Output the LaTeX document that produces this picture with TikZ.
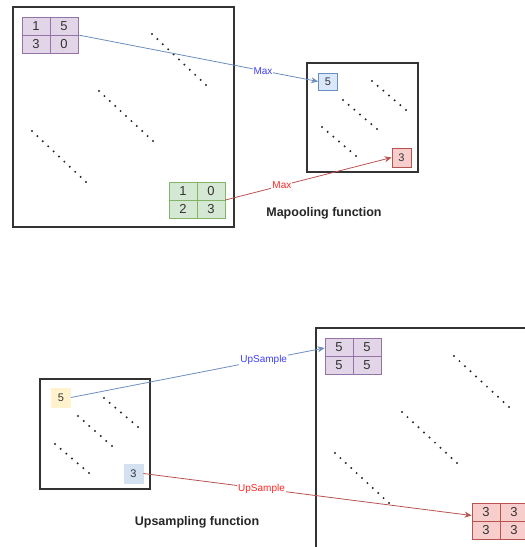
\documentclass[tikz,border=0pt]{standalone}
\usepackage{fontspec}
\setmainfont{Liberation Sans}
\usetikzlibrary{calc, arrows.meta}

\definecolor{purpfill}{HTML}{E1D5E7}
\definecolor{purpline}{HTML}{9673A6}
\definecolor{grnfill}{HTML}{D5E8D4}
\definecolor{grnline}{HTML}{82B366}
\definecolor{blufill}{HTML}{DAE8FC}
\definecolor{bluline}{HTML}{6C8EBF}
\definecolor{redfill}{HTML}{F8CECC}
\definecolor{redline}{HTML}{B85450}
\definecolor{yelfill}{HTML}{FFF2CC}
\definecolor{yelline}{HTML}{D6B656}
\definecolor{grayfill}{HTML}{D4E1F0}
\definecolor{frameline}{HTML}{333333}

\tikzset{
    frame/.style={draw=frameline, line width=1.1pt},
    num/.style={font=\fontsize{13}{15}\selectfont, text=black!80, inner sep=0pt},
    purpcell/.style={draw=purpline, fill=purpfill, line width=0.8pt},
    grncell/.style={draw=grnline, fill=grnfill, line width=0.8pt},
    redcell/.style={draw=redline, fill=redfill, line width=0.8pt},
    onebox/.style={minimum size=19pt, inner sep=0pt, line width=0.8pt, font=\fontsize{11}{13}\selectfont, text=black!80},
    bluarrow/.style={draw=bluline, line width=0.8pt, -{Stealth[length=7pt, width=6pt]}},
    redarrow/.style={draw=redline, line width=0.8pt, -{Stealth[length=7pt, width=6pt]}},
    bluetag/.style={fill=white, inner sep=1pt, text=blue!75, font=\fontsize{10}{12}\selectfont},
    redtag/.style={fill=white, inner sep=1pt, text=red!85, font=\fontsize{10}{12}\selectfont},
    caption/.style={font=\bfseries\fontsize{12.5}{15}\selectfont, text=black!85}
}

\newcommand{\fourcell}[7]{%
    \node[#2, minimum width=56pt, minimum height=36pt, inner sep=0pt] (#1) at #3 {};
    \draw[#2] (#1.north) -- (#1.south) (#1.west) -- (#1.east);
    \node[num] at ($(#1.center)+(-14,-9)$) {#4};
    \node[num] at ($(#1.center)+(14,-9)$) {#5};
    \node[num] at ($(#1.center)+(-14,9)$) {#6};
    \node[num] at ($(#1.center)+(14,9)$) {#7};
}

\newcommand{\dotrow}[3]{%
    \foreach \i in {0,...,#3}
        \fill[black!85] ($#1!\i/#3!#2$) circle (1.1);
}

\begin{document}
\begin{tikzpicture}[x=1pt, y=-1pt]
    \useasboundingbox (0,0) rectangle (525,547);
    \clip (0,0) rectangle (525,547);

    \draw[frame] (13,7) rectangle (234,227);
    \fourcell{pin}{purpcell}{(50,35)}{1}{5}{3}{0}
    \fourcell{gin}{grncell}{(197,200)}{1}{0}{2}{3}
    \dotrow{(152,34)}{(206,85)}{10}
    \dotrow{(99,91)}{(153,141)}{10}
    \dotrow{(32,131)}{(86,182)}{10}

    \draw[frame] (307,63) rectangle (418,172);
    \node[onebox, draw=bluline, fill=blufill, minimum height=17pt] (maxfive) at (328,81.5) {5};
    \node[onebox, draw=redline, fill=redfill] (maxthree) at (401.5,157.5) {3};
    \dotrow{(372,81)}{(406,110)}{6}
    \dotrow{(343,100)}{(377,129)}{6}
    \dotrow{(322,127)}{(356,156)}{6}
    \node[caption] (mpcap) at (324,213) {Mapooling function};

    \draw[bluarrow] (pin.east) -- node[bluetag, pos=0.77] {Max} (maxfive.west);
    \draw[redarrow] (gin.east) -- node[redtag, pos=0.34] {Max} (maxthree.west);

    \draw[frame] (40,379) rectangle (150,489);
    \node[onebox, draw=yelfill, fill=yelfill] (upfive) at (61,397.5) {5};
    \node[onebox, draw=grayfill, fill=grayfill] (upthree) at (133.5,473.5) {3};
    \dotrow{(104,398)}{(138,427)}{6}
    \dotrow{(78,416)}{(112,446)}{6}
    \dotrow{(55,444)}{(89,473)}{6}
    \node[caption] (upcap) at (197,522) {Upsampling function};

    \draw[frame] (316,328) rectangle (540,560);
    \fourcell{pout}{purpcell}{(353,356)}{5}{5}{5}{5}
    \fourcell{rout}{redcell}{(500,521.5)}{3}{3}{3}{3}
    \dotrow{(454,356)}{(509,407)}{10}
    \dotrow{(402,412)}{(457,463)}{10}
    \dotrow{(335,453)}{(389,503)}{10}

    \draw[bluarrow] (upfive.east) -- node[bluetag, pos=0.76] {UpSample} ($(pout.west)+(0,-8)$);
    \draw[redarrow] (upthree.east) -- node[redtag, pos=0.36] {UpSample} ($(rout.west)+(0,-6)$);
\end{tikzpicture}
\end{document}
